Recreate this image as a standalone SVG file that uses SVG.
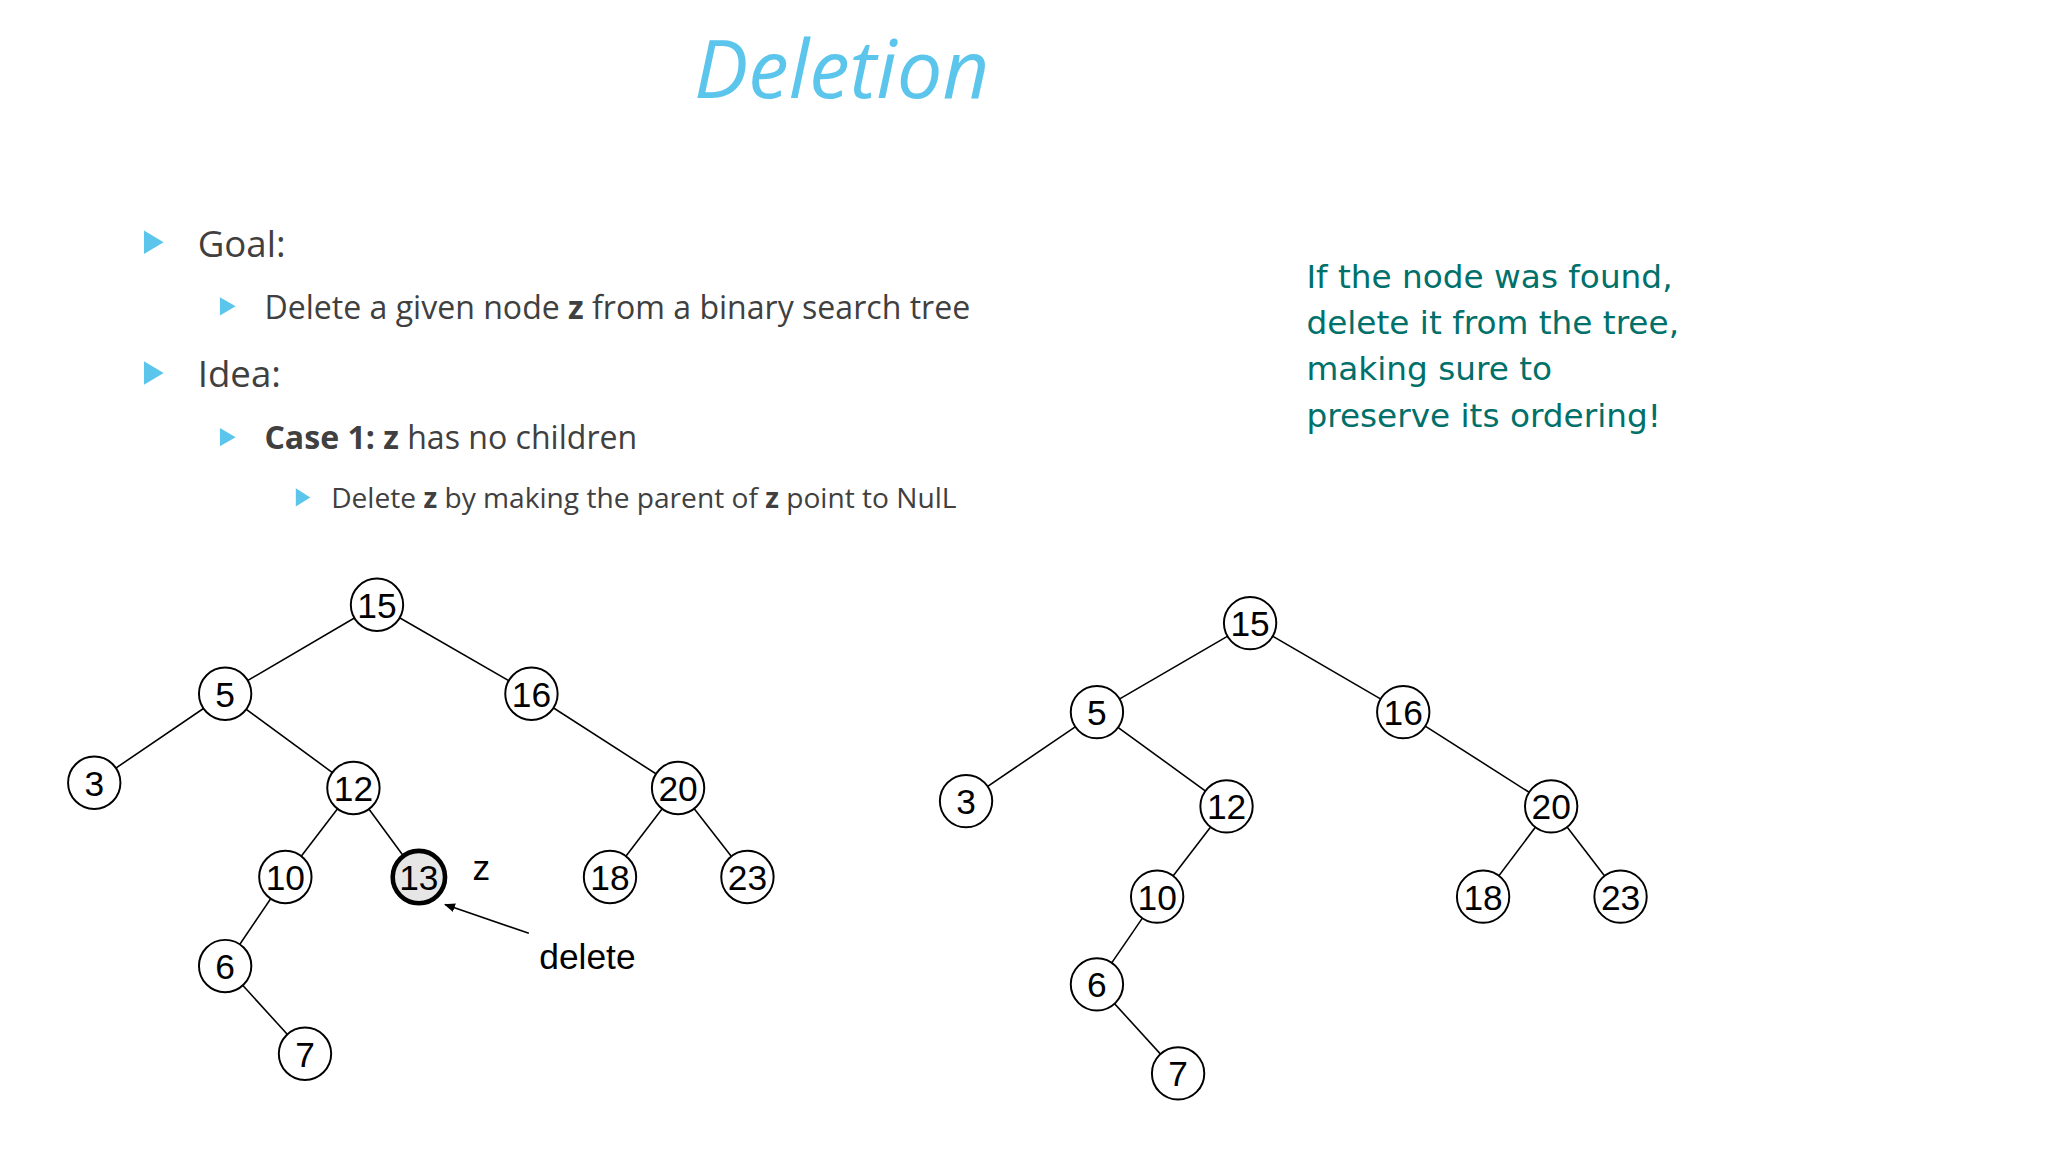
<svg xmlns="http://www.w3.org/2000/svg" width="2048" height="1152" viewBox="0 0 2048 1152">
<style>
.n circle{fill:#fff;stroke:#000;stroke-width:1.5}
.n text{font-family:"Liberation Sans",Arial,sans-serif;font-size:27px;text-anchor:middle;fill:#000}
.e line{stroke:#000;stroke-width:1.2}
.b{font-family:"Open Sans","DejaVu Sans",sans-serif;fill:#404040}
.tri{fill:#5bc5eb}
.g{font-family:"DejaVu Sans","Liberation Sans",sans-serif;font-size:25px;fill:#00706a}
</style>
<defs><marker id="ah" viewBox="0 0 10 10" refX="9" refY="5" markerWidth="7" markerHeight="7" orient="auto"><path d="M0,1L10,5L0,9z" fill="#000"/></marker></defs>
<rect width="2048" height="1152" fill="#fff"/>
<g transform="scale(1.309)">
<text x="643" y="75" text-anchor="middle" font-family="Open Sans,DejaVu Sans,sans-serif" font-style="italic" font-size="62" fill="#5bc5eb">Deletion</text>
<g id="bullets">
<polygon class="tri" points="110,176 125,185 110,194"/>
<text class="b" x="151" y="196" font-size="28">Goal:</text>
<polygon class="tri" points="168,227 180,234 168,241"/>
<text class="b" x="202" y="244" font-size="24.5">Delete a given node <tspan font-weight="bold">z</tspan> from a binary search tree</text>
<polygon class="tri" points="110,276 125,285 110,294"/>
<text class="b" x="151" y="296" font-size="28">Idea:</text>
<polygon class="tri" points="168,327 180,334 168,341"/>
<text class="b" x="202" y="343" font-size="24.5"><tspan font-weight="bold">Case 1:</tspan> <tspan font-weight="bold">z</tspan> has no children</text>
<polygon class="tri" points="226,373 237,380 226,387"/>
<text class="b" x="253" y="388" font-size="21.5">Delete <tspan font-weight="bold">z</tspan> by making the parent of <tspan font-weight="bold">z</tspan> point to NulL</text>
</g>
<g id="note" class="g">
<text x="998" y="220">If the node was found,</text>
<text x="998" y="255">delete it from the tree,</text>
<text x="998" y="290"> making sure to</text>
<text x="998" y="326">preserve  its ordering!</text>
</g>
<g id="connectors" class="e">
<line x1="288" y1="462" x2="172" y2="530"/><line x1="288" y1="462" x2="406" y2="530"/>
<line x1="172" y1="530" x2="72" y2="598"/><line x1="172" y1="530" x2="270" y2="602"/>
<line x1="406" y1="530" x2="518" y2="602"/>
<line x1="270" y1="602" x2="218" y2="670"/><line x1="270" y1="602" x2="320" y2="670"/>
<line x1="518" y1="602" x2="466" y2="670"/><line x1="518" y1="602" x2="571" y2="670"/>
<line x1="218" y1="670" x2="172" y2="738"/><line x1="172" y1="738" x2="233" y2="805"/>
<line x1="404" y1="713" x2="340" y2="691" stroke-width="2" marker-end="url(#ah)"/>
<line x1="955" y1="476" x2="838" y2="544"/><line x1="955" y1="476" x2="1072" y2="544"/>
<line x1="838" y1="544" x2="738" y2="612"/><line x1="838" y1="544" x2="937" y2="616"/>
<line x1="1072" y1="544" x2="1185" y2="616"/>
<line x1="937" y1="616" x2="884" y2="685"/>
<line x1="1185" y1="616" x2="1133" y2="685"/><line x1="1185" y1="616" x2="1238" y2="685"/>
<line x1="884" y1="685" x2="838" y2="752"/><line x1="838" y1="752" x2="900" y2="820"/>
</g>
<g id="t1_15" class="n"><circle cx="288" cy="462" r="20"/><text x="288" y="472">15</text></g>
<g id="t1_5" class="n"><circle cx="172" cy="530" r="20"/><text x="172" y="540">5</text></g>
<g id="t1_16" class="n"><circle cx="406" cy="530" r="20"/><text x="406" y="540">16</text></g>
<g id="t1_3" class="n"><circle cx="72" cy="598" r="20"/><text x="72" y="608">3</text></g>
<g id="t1_12" class="n"><circle cx="270" cy="602" r="20"/><text x="270" y="612">12</text></g>
<g id="t1_20" class="n"><circle cx="518" cy="602" r="20"/><text x="518" y="612">20</text></g>
<g id="t1_10" class="n"><circle cx="218" cy="670" r="20"/><text x="218" y="680">10</text></g>
<g id="t1_13" class="n"><circle cx="320" cy="670" r="20" style="fill:#e6e6e6;stroke-width:3.5"/><text x="320" y="680">13</text></g>
<g id="t1_18" class="n"><circle cx="466" cy="670" r="20"/><text x="466" y="680">18</text></g>
<g id="t1_23" class="n"><circle cx="571" cy="670" r="20"/><text x="571" y="680">23</text></g>
<g id="t1_6" class="n"><circle cx="172" cy="738" r="20"/><text x="172" y="748">6</text></g>
<g id="t1_7" class="n"><circle cx="233" cy="805" r="20"/><text x="233" y="815">7</text></g>
<g id="labels" font-family="Liberation Sans,Arial,sans-serif" font-size="27">
<text x="361" y="672">z</text>
<text x="412" y="740">delete</text>
</g>
<g id="t2_15" class="n"><circle cx="955" cy="476" r="20"/><text x="955" y="486">15</text></g>
<g id="t2_5" class="n"><circle cx="838" cy="544" r="20"/><text x="838" y="554">5</text></g>
<g id="t2_16" class="n"><circle cx="1072" cy="544" r="20"/><text x="1072" y="554">16</text></g>
<g id="t2_3" class="n"><circle cx="738" cy="612" r="20"/><text x="738" y="622">3</text></g>
<g id="t2_12" class="n"><circle cx="937" cy="616" r="20"/><text x="937" y="626">12</text></g>
<g id="t2_20" class="n"><circle cx="1185" cy="616" r="20"/><text x="1185" y="626">20</text></g>
<g id="t2_10" class="n"><circle cx="884" cy="685" r="20"/><text x="884" y="695">10</text></g>
<g id="t2_18" class="n"><circle cx="1133" cy="685" r="20"/><text x="1133" y="695">18</text></g>
<g id="t2_23" class="n"><circle cx="1238" cy="685" r="20"/><text x="1238" y="695">23</text></g>
<g id="t2_6" class="n"><circle cx="838" cy="752" r="20"/><text x="838" y="762">6</text></g>
<g id="t2_7" class="n"><circle cx="900" cy="820" r="20"/><text x="900" y="830">7</text></g>
</g>
</svg>
